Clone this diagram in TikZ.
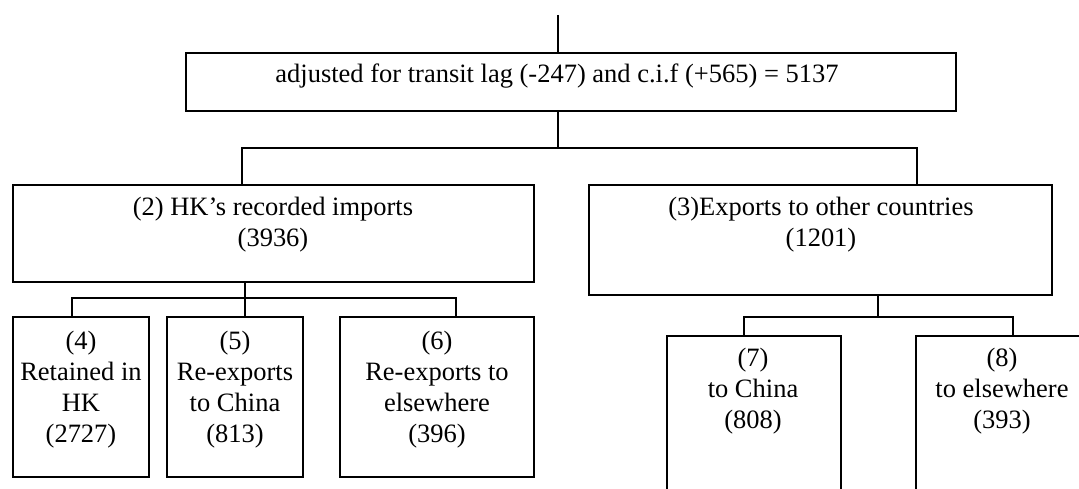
\documentclass[tikz,border=0pt]{standalone}
\usepackage{fontspec}
\setmainfont{Liberation Serif}
\usetikzlibrary{fit}
\begin{document}
\begin{tikzpicture}[x=0.47pt,y=-0.47pt,
  box/.style={draw,line width=0.9pt,inner sep=0pt},
  conn/.style={draw,line width=0.9pt},
  txt/.style={font=\fontsize{12.45pt}{14.5pt}\selectfont,align=center,inner sep=0pt,anchor=north}]
\useasboundingbox (0,0) rectangle (1079,489);
\clip (0,0) rectangle (1079,489);
% boxes
\node[box,fit={(186,53) (956,111)}] (b1) {};
\node[box,fit={(13,185) (534,282)}] (b2) {};
\node[box,fit={(589,185) (1052,295)}] (b3) {};
\node[box,fit={(13,317) (149,477)}] (b4) {};
\node[box,fit={(167,317) (303,477)}] (b5) {};
\node[box,fit={(340,317) (534,477)}] (b6) {};
\node[box,fit={(667,336) (841,540)}] (b7) {};
\node[box,fit={(916,336) (1088,540)}] (b8) {};
% texts
\node[txt] (t1) at (557,63) {adjusted for transit lag (-247) and c.i.f (+565) = 5137};
\node[txt] (t2) at (273,197) {(2) HK’s recorded imports\\(3936)};
\node[txt] (t3) at (821,197) {(3)Exports to other countries\\(1201)};
\node[txt] (t4) at (81,331) {(4)\\Retained in\\HK\\(2727)};
\node[txt] (t5) at (235,331) {(5)\\Re-exports\\to China\\(813)};
\node[txt] (t6) at (437,331) {(6)\\Re-exports to\\elsewhere\\(396)};
\node[txt] (t7) at (753,348) {(7)\\to China\\(808)};
\node[txt] (t8) at (1002,348) {(8)\\to elsewhere\\(393)};
% junction coordinates
\coordinate (top) at (558,15);
\coordinate (j1) at (558,148);
\coordinate (j1L) at (242,148);
\coordinate (j1R) at (917,148);
\coordinate (j2) at (245,298);
\coordinate (j2a) at (72,298);
\coordinate (j2c) at (456,298);
\coordinate (j3) at (878,317);
\coordinate (j3a) at (744,317);
\coordinate (j3b) at (1013,317);
% connectors
\draw[conn] (top) -- (top |- b1.north);
\draw[conn] (j1 |- b1.south) -- (j1);
\draw[conn] (b2.north -| j1L) -- (j1L) -- (j1R) -- (b3.north -| j1R);
\draw[conn] (b2.south -| j2) -- (j2) -- (b5.north -| j2);
\draw[conn] (b4.north -| j2a) -- (j2a) -- (j2c) -- (b6.north -| j2c);
\draw[conn] (b3.south -| j3) -- (j3);
\draw[conn] (b7.north -| j3a) -- (j3a) -- (j3b) -- (b8.north -| j3b);
\end{tikzpicture}
\end{document}
